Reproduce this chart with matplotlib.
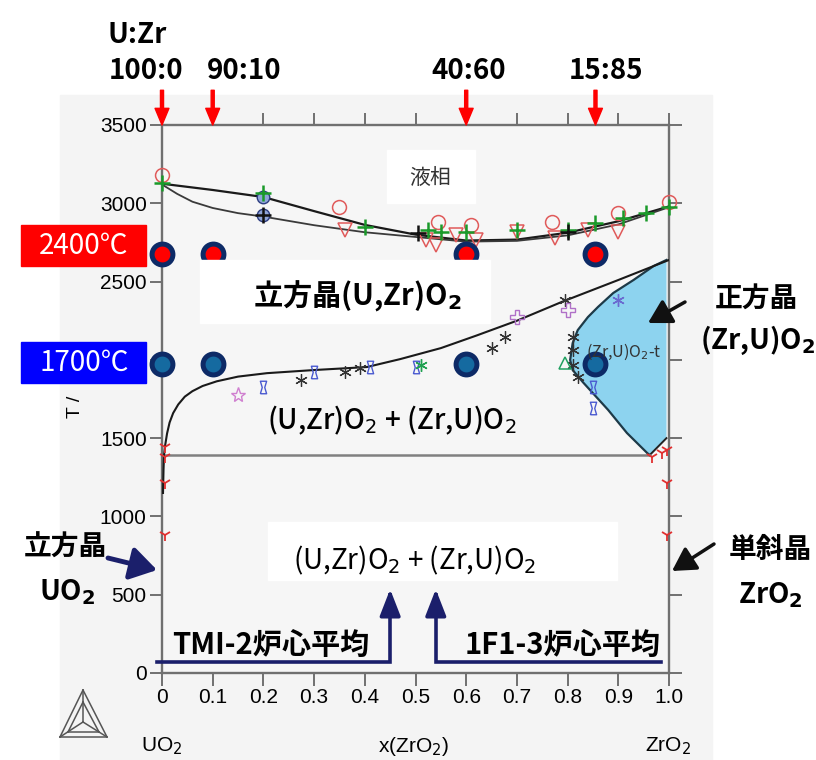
import matplotlib
matplotlib.use("Agg")
import matplotlib.pyplot as plt
from matplotlib.patches import Rectangle, Polygon, FancyArrowPatch
from matplotlib.lines import Line2D

plt.rcParams['font.family'] = ['Noto Sans CJK JP', 'DejaVu Sans']
NUM_FONT = 'Liberation Sans'

W, H = 816, 760

# phase boundaries, x = mole fraction ZrO2, T in K
liq_x = [0.0, 0.1, 0.2, 0.3, 0.4, 0.5, 0.6, 0.7, 0.8, 0.9, 1.0]
liq_T = [3125, 3085, 3040, 2950, 2862, 2800, 2762, 2768, 2812, 2885, 2980]
sol_x = [0.0, 0.03, 0.06, 0.1, 0.15, 0.2, 0.3, 0.4, 0.5, 0.6, 0.7, 0.8, 0.9, 1.0]
sol_T = [3120, 3060, 3010, 2970, 2937, 2915, 2860, 2815, 2785, 2755, 2760, 2795, 2865, 2975]

cub_x = [0.002, 0.003, 0.004, 0.006, 0.01, 0.015, 0.022, 0.032, 0.045, 0.06, 0.08,
         0.108, 0.15, 0.207, 0.3, 0.404, 0.47, 0.55, 0.62, 0.70, 0.79, 0.9, 1.0]
cub_T = [1150, 1300, 1392, 1450, 1530, 1600, 1660, 1715, 1765, 1800, 1833,
         1863, 1893, 1915, 1935, 1954, 2005, 2075, 2155, 2250, 2372, 2510, 2638]

tet_x = [0.995, 0.97, 0.93, 0.89, 0.86, 0.84, 0.82, 0.81, 0.805, 0.81, 0.83,
         0.88, 0.917, 0.957, 0.962]
tet_T = [2638, 2600, 2510, 2427, 2338, 2273, 2190, 2107, 1999, 1935, 1858,
         1680, 1533, 1405, 1392]
mono_x = [0.962, 0.995]
mono_T = [1392, 1500]
eut_x = [0.0, 0.962]
eut_T = [1392, 1392]

# experimental points
ocirc_x = [0.0, 0.35, 0.545, 0.61, 0.77, 0.90, 1.0]
ocirc_T = [3180, 2976, 2880, 2861, 2880, 2937, 3008]
tri_x = [0.36, 0.52, 0.54, 0.58, 0.62, 0.70, 0.775, 0.84, 0.90]
tri_T = [2829, 2765, 2733, 2797, 2765, 2816, 2778, 2829, 2816]
gplus_x = [0.0, 0.2, 0.40, 0.525, 0.55, 0.60, 0.70, 0.80, 0.855, 0.91, 0.955, 1.0]
gplus_T = [3130, 3065, 2848, 2829, 2816, 2816, 2829, 2829, 2874, 2905, 2937, 2976]
kplus_x = [0.2, 0.505, 0.80]
kplus_T = [2925, 2810, 2816]
bcirc_x = [0.2, 0.2]
bcirc_T = [3040, 2925]
ast_x = [0.275, 0.36, 0.39, 0.65, 0.676, 0.795, 0.81, 0.81, 0.81, 0.82]
ast_T = [1871, 1922, 1947, 2075, 2146, 2382, 2146, 2063, 1966, 1890]
hg_x = [0.2, 0.30, 0.41, 0.50, 0.85, 0.85]
hg_T = [1827, 1922, 1954, 1954, 1826, 1692]
clover_x = [0.70, 0.80]
clover_T = [2273, 2318]
low_x = [0.005, 0.005, 0.005, 0.005, 0.966, 0.986, 0.997, 0.997, 0.997]
low_T = [1443, 1380, 1213, 881, 1380, 1405, 1424, 1213, 881]

# compositions examined (U:Zr) and temperatures
comp_x = [0.0, 0.1, 0.6, 0.855]
comp_labels = ['100:0', '90:10', '40:60', '15:85']
comp_label_px = [146, 244, 469, 606]
T_2400 = 2673
T_1700 = 1973
tmi_x = 0.45
f13_x = 0.54

xticks = [0, 0.1, 0.2, 0.3, 0.4, 0.5, 0.6, 0.7, 0.8, 0.9, 1.0]
xtick_labels = ['0', '0.1', '0.2', '0.3', '0.4', '0.5', '0.6', '0.7', '0.8', '0.9', '1.0']
yticks = [0, 500, 1000, 1500, 2000, 2500, 3000, 3500]
# the 2000 label sits under the 1700℃ tag in the original
ytick_labels = ['0', '500', '1000', '1500', '', '2500', '3000', '3500']


def fx(px):
    return px / W


def fy(py):
    return 1 - py / H


fig = plt.figure(figsize=(8.16, 7.6), dpi=100)
fig.add_artist(Rectangle((fx(60), 0), fx(712) - fx(60), fy(95), transform=fig.transFigure,
                         color='#f4f4f4', zorder=-5))

ax = fig.add_axes([fx(162), fy(673), (669 - 162) / W, (673 - 125) / H])
ax.set_facecolor('#f6f6f6')
ax.set_xlim(0, 1)
ax.set_ylim(0, 3500)
for s in ax.spines.values():
    s.set_color('#707070')
    s.set_linewidth(1.7)
ax.set_xticks(xticks)
ax.set_xticklabels(xtick_labels)
ax.set_yticks(yticks)
ax.set_yticklabels(ytick_labels)
ax.tick_params(axis='x', direction='out', top=True, length=9, width=1.3, color='#666', pad=2)
ax.tick_params(axis='y', direction='out', right=True, length=9, width=1.3, color='#666', pad=2)
for lab in ax.get_xticklabels() + ax.get_yticklabels():
    lab.set_fontfamily(NUM_FONT)
    lab.set_fontsize(15)

# tetragonal field
poly = list(zip(tet_x, tet_T)) + [(mono_x[1], mono_T[1]), (0.995, 2638)]
ax.add_patch(Polygon(poly, closed=True, facecolor='#8dd3ef', edgecolor='none', zorder=1))
ax.plot(tet_x, tet_T, color='#1d3a48', lw=1.6, zorder=2)
ax.plot(mono_x, mono_T, color='#222', lw=1.4, zorder=2)
ax.plot(eut_x, eut_T, color='#808080', lw=1.8, zorder=2)

ax.plot(liq_x, liq_T, color='#1a1a1a', lw=1.6, zorder=3)
ax.plot(sol_x, sol_T, color='#3a3a3a', lw=1.3, zorder=3)
ax.plot(cub_x, cub_T, color='#1a1a1a', lw=1.5, zorder=3)

# measured points
ax.plot(ocirc_x, ocirc_T, 'o', ms=10, mfc='none', mec='#e05a5a', mew=1.1, clip_on=False, zorder=4)
ax.plot(tri_x, tri_T, 'v', ms=10, mfc='none', mec='#e05a5a', mew=1.1, zorder=4)
ax.plot(bcirc_x, bcirc_T, 'o', ms=9, mfc='#8fa4d8', mec='#2c3c80', mew=1.0, zorder=4)
ax.plot(gplus_x, gplus_T, '+', ms=11, mec='#1a9a2a', mew=1.8, clip_on=False, zorder=5)
ax.plot(kplus_x, kplus_T, '+', ms=11, mec='#111', mew=1.8, zorder=5)
ax.plot(ast_x, ast_T, marker=(6, 2, 0), ls='none', ms=9, mec='#333', mew=0.9, zorder=4)
hourglass = [(-1, -2), (1, -2), (0.4, 0), (1, 2), (-1, 2), (-0.4, 0), (-1, -2)]
ax.plot(hg_x, hg_T, marker=hourglass, ls='none', ms=9, mfc='none', mec='#4a5ad0', mew=1.0, zorder=4)
ax.plot([0.15], [1775], '*', ms=11, mfc='none', mec='#d080d0', mew=1.0, zorder=4)
ax.plot(clover_x, clover_T, 'P', ms=10, mfc='none', mec='#b070c8', mew=1.0, zorder=4)
ax.plot([0.90], [2382], marker=(6, 2, 0), ms=9, mec='#6a6ad0', mew=1.0, zorder=4)
ax.plot([0.51], [1966], marker=(6, 2, 0), ms=9, mec='#20a050', mew=1.0, zorder=4)
ax.plot([0.795], [1979], '^', ms=9, mfc='none', mec='#20a060', mew=1.1, zorder=4)
ax.plot(low_x, low_T, '1', ms=9, mec='#e03030', mew=1.3, clip_on=False, zorder=4)

# compositions / temperatures studied
ax.plot(comp_x, [T_2400] * 4, 'o', ms=15, mfc='#ff0000', mec='#0d2a66', mew=3.6, clip_on=False, zorder=8)
ax.plot(comp_x, [T_1700] * 4, 'o', ms=15, mfc='#156aa0', mec='#0d2a66', mew=3.6, clip_on=False, zorder=8)

for x in comp_x:
    ax.annotate('', xy=(x, 3500), xytext=(0, 25), textcoords='offset points',
                annotation_clip=False,
                arrowprops=dict(color='#ff0000', width=2.2, headwidth=10, headlength=12, shrink=0))

# core-average arrows
navy = '#1b1f6b'
ax.plot([-0.01, tmi_x, tmi_x], [70, 70, 500], color=navy, lw=2.6, clip_on=False, zorder=6,
        solid_joinstyle='miter')
ax.plot([0.985, f13_x, f13_x], [70, 70, 500], color=navy, lw=2.6, clip_on=False, zorder=6,
        solid_joinstyle='miter')
for x in (tmi_x, f13_x):
    ax.annotate('', xy=(x, 535), xytext=(x, 440), annotation_clip=False,
                arrowprops=dict(arrowstyle='-|>,head_length=0.9,head_width=0.35', color=navy,
                                lw=2.6, shrinkA=0, shrinkB=0, mutation_scale=18), zorder=6)

# white label boxes
for (x0, y0, x1, y1) in [(200, 260, 490, 323), (387, 150, 475, 203), (268, 522, 617, 580)]:
    fig.add_artist(Rectangle((fx(x0), fy(y1)), fx(x1) - fx(x0), fy(y0) - fy(y1),
                             transform=fig.transFigure, color='white', zorder=2))

fig.text(fx(430), fy(178), '液相', fontsize=15, color='#333', ha='center', va='center', zorder=3)
fig.text(fx(357), fy(296), r'立方晶(U,Zr)O$_\mathbf{2}$', fontsize=21, fontweight='bold',
         ha='center', va='center', zorder=3)
fig.text(fx(392), fy(420), r'(U,Zr)O$_2$ + (Zr,U)O$_2$', fontsize=20, fontweight='medium',
         ha='center', va='center', zorder=3)
fig.text(fx(415), fy(560), r'(U,Zr)O$_2$ + (Zr,U)O$_2$', fontsize=20,
         ha='center', va='center', zorder=3)
fig.text(fx(624), fy(352), r'(Zr,U)O$_2$-t', fontsize=11.5, color='#333',
         ha='center', va='center', zorder=3)

fig.text(fx(107), fy(35), 'U:Zr', fontsize=20, fontweight='bold', ha='left', va='center')
for px, lab in zip(comp_label_px, comp_labels):
    fig.text(fx(px), fy(71), lab, fontsize=20, fontweight='bold', ha='center', va='center')

# temperature tags
fig.text(fx(75), fy(407), 'T /', fontsize=14, rotation=90, ha='center', va='center',
         family=NUM_FONT)
for (y0, y1, col, lab) in [(225, 266, '#ff0000', '2400℃'), (342, 383, '#0000ff', '1700℃')]:
    fig.add_artist(Rectangle((fx(21), fy(y1)), fx(146) - fx(21), fy(y0) - fy(y1),
                             transform=fig.transFigure, color=col, zorder=5))
    fig.text(fx(84), fy((y0 + y1) / 2), lab, fontsize=20, color='white',
             ha='center', va='center', zorder=6)

# side annotations
fig.text(fx(65), fy(548), '立方晶', fontsize=20, fontweight='bold', ha='center', va='center')
fig.text(fx(67), fy(592), r'UO$_\mathbf{2}$', fontsize=20, fontweight='bold', ha='center', va='center')
fig.add_artist(FancyArrowPatch((fx(108), fy(558)), (fx(157), fy(570)), transform=fig.transFigure,
                               arrowstyle='-|>,head_length=0.8,head_width=0.5', mutation_scale=20,
                               color=navy, lw=3.5, shrinkA=0, shrinkB=0))
fig.text(fx(770), fy(550), '単斜晶', fontsize=20, fontweight='bold', ha='center', va='center')
fig.text(fx(770), fy(595), r'ZrO$_\mathbf{2}$', fontsize=20, fontweight='bold', ha='center', va='center')
fig.add_artist(FancyArrowPatch((fx(714), fy(544)), (fx(672), fy(571)), transform=fig.transFigure,
                               arrowstyle='-|>,head_length=0.7,head_width=0.4', mutation_scale=20,
                               color='#111', lw=2.5, shrinkA=0, shrinkB=0))
fig.text(fx(756), fy(299), '正方晶', fontsize=20, fontweight='bold', ha='center', va='center')
fig.text(fx(758), fy(340), r'(Zr,U)O$_\mathbf{2}$', fontsize=20, fontweight='bold',
         ha='center', va='center')
fig.add_artist(FancyArrowPatch((fx(685), fy(302)), (fx(648), fy(323)), transform=fig.transFigure,
                               arrowstyle='-|>,head_length=0.7,head_width=0.4', mutation_scale=20,
                               color='#111', lw=2.5, shrinkA=0, shrinkB=0))

fig.text(fx(271), fy(645), 'TMI-2炉心平均', fontsize=21, fontweight='bold', ha='center', va='center')
fig.text(fx(563), fy(645), '1F1-3炉心平均', fontsize=21, fontweight='bold', ha='center', va='center')

# composition axis end labels
fig.text(fx(162), fy(746), r'UO$_2$', fontsize=15, family=NUM_FONT, ha='center', va='center')
fig.text(fx(414), fy(746), r'x(ZrO$_2$)', fontsize=15, family=NUM_FONT, ha='center', va='center')
fig.text(fx(668), fy(746), r'ZrO$_2$', fontsize=15, family=NUM_FONT, ha='center', va='center')

# Thermo-Calc style logo
A, BL, BR, C = (83, 690), (60, 737), (107, 737), (83, 722)
a2, bl2, br2 = (83, 702), (68, 732), (99, 732)
for p, q in [(A, BL), (BL, BR), (BR, A), (a2, bl2), (bl2, br2), (br2, a2), (A, C), (BL, C), (BR, C)]:
    fig.add_artist(Line2D([fx(p[0]), fx(q[0])], [fy(p[1]), fy(q[1])], transform=fig.transFigure,
                          color='#555', lw=1.1))

fig.savefig('out.png', dpi=100)
